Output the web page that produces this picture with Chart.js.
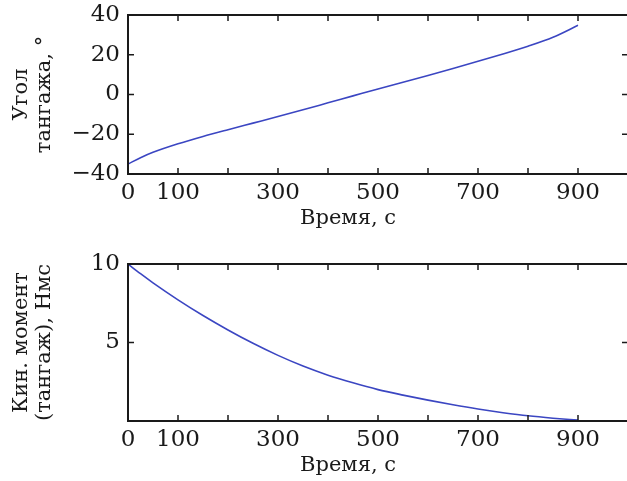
<!DOCTYPE html>
<html><head><meta charset="utf-8">
<script src="https://cdn.jsdelivr.net/npm/chart.js@4/dist/chart.umd.min.js"></script>
<style>
html,body{margin:0;padding:0;background:#fff;overflow:hidden;width:627px;height:481px;position:relative}
.box{position:absolute;left:0;width:640px}
#b1{top:0;height:240px}
#b2{top:240px;height:241px}
.xt{position:absolute;font-family:'DejaVu Serif';font-size:21px;color:#1a1a1a;white-space:nowrap;line-height:24px}
</style></head><body>
<div class="box" id="b1"><canvas id="c1" width="640" height="240"></canvas></div>
<div class="box" id="b2"><canvas id="c2" width="640" height="241"></canvas></div>
<div class="xt" id="t1" style="left:300px;top:205px">Время, с</div>
<div class="xt" id="t2" style="left:300px;top:452px">Время, с</div>
<script>
// data
const time = [0, 25, 50, 100, 150, 200, 250, 300, 350, 400, 450, 500, 550, 600, 650, 700, 750, 800, 850, 900];
const pitchAngle = [-35.0, -31.8, -29.1, -24.8, -21.1, -17.7, -14.4, -11.1, -7.7, -4.2, -0.7, 2.8, 6.2, 9.6, 13.1, 16.7, 20.4, 24.3, 28.8, 34.8];
const angMomentum = [10, 9.38, 8.8, 7.72, 6.72, 5.8, 4.95, 4.18, 3.5, 2.92, 2.43, 2.0, 1.65, 1.33, 1.03, 0.76, 0.53, 0.33, 0.18, 0.06];
const xTickLabels = [0, 100, 300, 500, 700, 900];
const yTickLabelsTop = [-40, -20, 0, 20, 40];
const yTickLabelsBottom = [5, 10];
const yTitleTop = ['Угол', 'тангажа, °'];
const yTitleBottom = ['Кин. момент', '(тангаж), Нмс'];

const TXT = '#1a1a1a';
const LINE = '#3b46c2';
const tickFont = {family: 'DejaVu Serif', size: 23, lineHeight: 1.2};
const titleFont = {family: 'DejaVu Serif', size: 21, lineHeight: 1.1};

const frame = {
  id: 'frame',
  afterDatasetsDraw(chart) {
    const {ctx, chartArea: a, scales: {x, y}} = chart;
    ctx.save();
    ctx.strokeStyle = '#1a1a1a';
    ctx.lineWidth = 2;
    ctx.strokeRect(a.left, a.top, a.right - a.left, a.bottom - a.top);
    ctx.lineWidth = 1.5;
    const L = 6;
    ctx.beginPath();
    x.ticks.forEach(t => {
      const p = x.getPixelForValue(t.value);
      ctx.moveTo(p, a.bottom); ctx.lineTo(p, a.bottom - L);
      ctx.moveTo(p, a.top); ctx.lineTo(p, a.top + L);
    });
    y.ticks.forEach(t => {
      const p = y.getPixelForValue(t.value);
      ctx.moveTo(a.left, p); ctx.lineTo(a.left + L, p);
      ctx.moveTo(a.right, p); ctx.lineTo(a.right - L, p);
    });
    ctx.stroke();
    ctx.restore();
  }
};

function makeChart(id, values, yMin, yMax, yStep, yLabels, yTitle, padTop, xHeight) {
  return new Chart(document.getElementById(id), {
    type: 'line',
    data: {
      datasets: [{
        data: time.map((t, i) => ({x: t, y: values[i]})),
        borderColor: LINE,
        borderWidth: 1.6,
        pointRadius: 0,
        cubicInterpolationMode: 'monotone',
        fill: false
      }]
    },
    options: {
      responsive: false,
      animation: false,
      devicePixelRatio: 1,
      layout: {padding: {top: padTop, right: 12, bottom: 0, left: 0}},
      plugins: {legend: {display: false}, tooltip: {enabled: false}},
      scales: {
        x: {
          type: 'linear', min: 0, max: 1000,
          grid: {display: false, drawTicks: false},
          border: {display: false},
          ticks: {
            stepSize: 100, autoSkip: false, maxRotation: 0, padding: 5,
            color: TXT, font: tickFont,
            callback: v => xTickLabels.includes(v) ? String(v) : ''
          },
          afterFit: s => { s.height = xHeight; s.paddingLeft = 0; s.paddingRight = 0; }
        },
        y: {
          min: yMin, max: yMax,
          grid: {display: false, drawTicks: false},
          border: {display: false},
          ticks: {
            stepSize: yStep, padding: 8, color: TXT, font: tickFont,
            callback: v => yLabels.includes(v) ? String(v).replace('-', '\u2212') : ''
          },
          title: {display: true, text: yTitle, color: TXT, font: titleFont, padding: {top: 10, bottom: 0}},
          afterFit: s => { s.width = 128; s.paddingTop = 0; s.paddingBottom = 0; }
        }
      }
    },
    plugins: [frame]
  });
}

makeChart('c1', pitchAngle, -40, 40, 20, yTickLabelsTop, yTitleTop, 15, 66);
makeChart('c2', angMomentum, 0, 10, 5, yTickLabelsBottom, yTitleBottom, 24, 60);
</script>
</body></html>
